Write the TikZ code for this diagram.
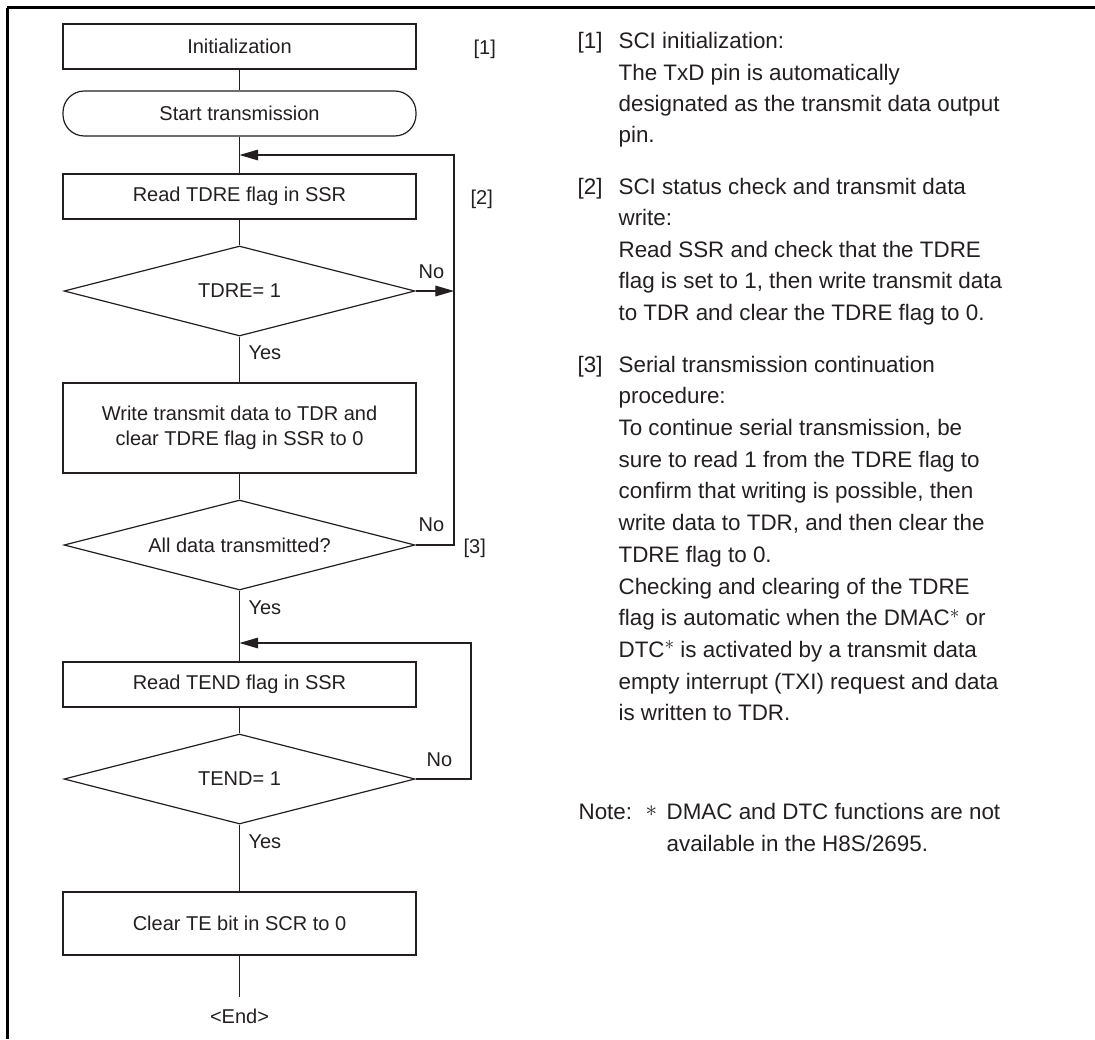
\documentclass[tikz,border=0pt]{standalone}
\usepackage{fontspec}
\setmainfont{Liberation Sans}
\usetikzlibrary{shapes.geometric,arrows.meta}
\definecolor{ink}{RGB}{35,31,32}
\newcommand{\supast}{\raisebox{0.62ex}{\fontsize{14}{14}\selectfont$\ast$}}
\begin{document}
\begin{tikzpicture}[x=0.75pt,y=-0.75pt,
  line width=0.9pt, draw=ink, color=ink,
  chartfont/.style={font=\fontsize{15}{18.75}\selectfont},
  box/.style={draw, rectangle, chartfont, align=center, inner sep=0pt,
    minimum width=264.75pt, minimum height=33.75pt},
  dia/.style={draw, diamond, aspect=3.9, chartfont, inner sep=0pt,
    minimum width=263.25pt, minimum height=67.5pt},
  lbl/.style={chartfont, inner sep=0pt, anchor=base west},
  para/.style={font=\fontsize{16.8}{21}\selectfont, inner sep=0pt, anchor=base west},
  arr/.style={-{Triangle[length=14pt,width=8pt]}},
  frame/.style={line width=2.25pt, draw=black}
]
\useasboundingbox (0,0) rectangle (1095,1039);
% frame
\draw[frame] (7,7.5) -- (1095,7.5);
\draw[frame] (7.5,7.5) -- (7.5,1039);

% flowchart nodes
\node[box] (init) at (239.5,46.5) {Initialization};
\node[box, rounded corners=16pt] (start) at (239.5,113.5) {Start transmission};
\node[box] (rd1) at (239.5,196.5) {Read TDRE flag in SSR};
\node[dia] (d1) at (239.5,291) {TDRE= 1};
\node[box, minimum height=67.5pt] (wr) at (239.5,428) {Write transmit data to TDR and\\clear TDRE flag in SSR to 0};
\node[dia] (d2) at (239.5,545) {All data transmitted?};
\node[box] (rd2) at (239.5,684.5) {Read TEND flag in SSR};
\node[dia] (d3) at (239.5,779) {TEND= 1};
\node[box, minimum height=47.25pt] (clr) at (239.5,923.5) {Clear TE bit in SCR to 0};
\node[chartfont, inner xsep=0pt, inner ysep=8pt] (end) at (239.5,1016) {<End>};

% loop coordinates
\coordinate (j1) at (239.5,155);
\coordinate (l1t) at (454,155);
\coordinate (l1m) at (454,291);
\coordinate (l1b) at (454,545);
\coordinate (j2) at (239.5,643);
\coordinate (l2t) at (471,643);
\coordinate (l2b) at (471,779);

% connectors
\draw (init) -- (start);
\draw (start) -- (rd1);
\draw (rd1) -- (d1);
\draw (d1) -- (wr);
\draw (wr) -- (d2);
\draw (d2) -- (rd2);
\draw (rd2) -- (d3);
\draw (d3) -- (clr);
\draw (clr) -- (end);
\draw[arr] (d1.east) -- (l1m);
\draw[arr] (d2.east) -- (l1b) -- (l1t) -- (j1);
\draw[arr] (d3.east) -- (l2b) -- (l2t) -- (j2);

% branch labels
\node[lbl] (no1) at (418,278) {No};
\node[lbl] (yes1) at (248,359) {Yes};
\node[lbl] (no2) at (418,531) {No};
\node[lbl] (yes2) at (248,614) {Yes};
\node[lbl] (no3) at (426,766) {No};
\node[lbl] (yes3) at (248,848) {Yes};
\node[lbl] (s1) at (473,54) {[1]};
\node[lbl] (s2) at (470,204) {[2]};
\node[lbl] (s3) at (463,553) {[3]};

% right-hand notes
\node[para] (n1) at (577,48) {[1]};
\node[para] (n1a) at (618,48) {SCI initialization:};
\node[para] (n1b) at (618,80) {The TxD pin is automatically};
\node[para] (n1c) at (618,111) {designated as the transmit data output};
\node[para] (n1d) at (618,142) {pin.};

\node[para] (n2) at (577,194) {[2]};
\node[para] (n2a) at (618,194) {SCI status check and transmit data};
\node[para] (n2b) at (618,225) {write:};
\node[para] (n2c) at (618,257) {Read SSR and check that the TDRE};
\node[para] (n2d) at (618,288) {flag is set to 1, then write transmit data};
\node[para] (n2e) at (618,320) {to TDR and clear the TDRE flag to 0.};

\node[para] (n3) at (577,372) {[3]};
\node[para] (n3a) at (618,372) {Serial transmission continuation};
\node[para] (n3b) at (618,403.7) {procedure:};
\node[para] (n3c) at (618,435.4) {To continue serial transmission, be};
\node[para] (n3d) at (618,467) {sure to read 1 from the TDRE flag to};
\node[para] (n3e) at (618,498.8) {confirm that writing is possible, then};
\node[para] (n3f) at (618,530.5) {write data to TDR, and then clear the};
\node[para] (n3g) at (618,562) {TDRE flag to 0.};
\node[para] (n3h) at (618,594) {Checking and clearing of the TDRE};
\node[para] (n3i) at (618,625.6) {flag is automatic when the DMAC\supast{} or};
\node[para] (n3j) at (618,657) {DTC\supast{} is activated by a transmit data};
\node[para] (n3k) at (618,689) {empty interrupt (TXI) request and data};
\node[para] (n3l) at (618,720.7) {is written to TDR.};

\node[para] (nt) at (578,819) {Note:};
\node[para] (nts) at (645,816) {$\ast$};
\node[para] (nta) at (666,819) {DMAC and DTC functions are not};
\node[para] (ntb) at (666,851) {available in the H8S/2695.};
\end{tikzpicture}
\end{document}
